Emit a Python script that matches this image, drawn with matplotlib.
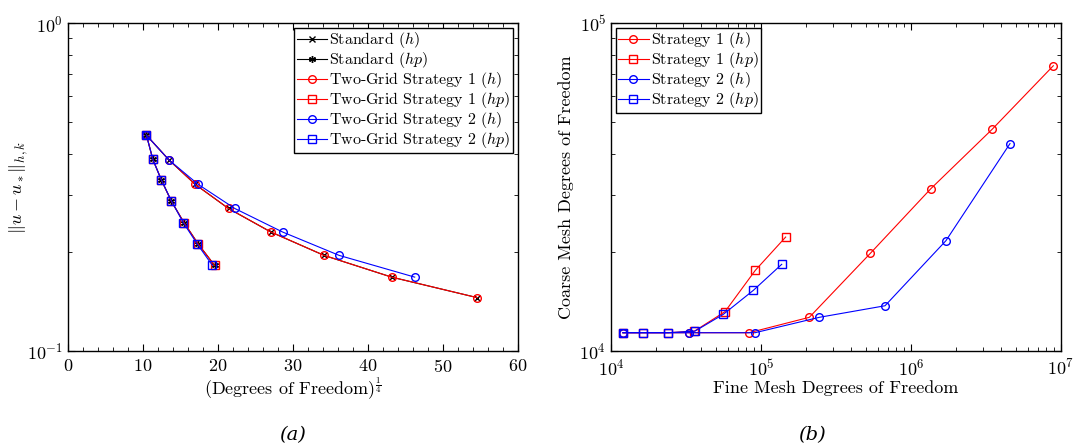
import numpy as np
import matplotlib.pyplot as plt
from matplotlib.ticker import MultipleLocator, LogLocator, NullFormatter

plt.rcParams['font.family'] = 'serif'
plt.rcParams['font.serif'] = ['cmr10', 'DejaVu Serif']
plt.rcParams['mathtext.fontset'] = 'cm'
plt.rcParams['axes.unicode_minus'] = False
plt.rcParams['axes.formatter.use_mathtext'] = True

# fine mesh degrees of freedom
fine_s1_h = [1.2e4, 3.31e4, 8.32e4, 2.10e5, 5.36e5, 1.36e6, 3.47e6, 8.89e6]
fine_s2_h = [1.2e4, 3.31e4, 9.12e4, 2.45e5, 6.71e5, 1.71e6, 4.57e6]
fine_s1_hp = [1.2e4, 1.64e4, 2.41e4, 3.60e4, 5.75e4, 9.16e4, 1.46e5]
fine_s2_hp = [1.2e4, 1.64e4, 2.41e4, 3.63e4, 5.61e4, 8.89e4, 1.374e5]

# coarse mesh degrees of freedom
coarse_s1_h = [1.137e4, 1.137e4, 1.137e4, 1.267e4, 1.986e4, 3.13e4, 4.74e4, 7.41e4]
coarse_s2_h = [1.137e4, 1.137e4, 1.137e4, 1.267e4, 1.374e4, 2.17e4, 4.29e4]
coarse_s1_hp = [1.137e4, 1.137e4, 1.137e4, 1.15e4, 1.318e4, 1.762e4, 2.226e4]
coarse_s2_hp = [1.137e4, 1.137e4, 1.137e4, 1.15e4, 1.294e4, 1.531e4, 1.838e4]

# error ||u - u_*||_{h,k}
err_h = [0.455, 0.382, 0.322, 0.272, 0.2306, 0.1957, 0.168, 0.1454]
err_hp = [0.455, 0.384, 0.332, 0.2866, 0.246, 0.2115, 0.1825]

q = lambda v: np.array(v) ** 0.25

fig = plt.figure(figsize=(10.79, 4.48), dpi=100)
ax1 = fig.add_axes([0.063, 0.2165, 0.417, 0.732])
ax2 = fig.add_axes([0.5663, 0.2165, 0.417, 0.732])

ms = 5.5
lw = 0.8
asterisk = (6, 2, 0)
leg_kw = dict(fontsize=11.5, fancybox=False, edgecolor='k', framealpha=1,
              borderpad=0.15, labelspacing=0.0, handlelength=1.9,
              handletextpad=0.15, borderaxespad=0.3)

ax1.plot(q(fine_s1_h), err_h, 'k-', marker='x', ms=4, lw=lw, label='Standard ($h$)')
ax1.plot(q(fine_s1_hp), err_hp, 'k-', marker=asterisk, ms=5, lw=lw, label='Standard ($hp$)')
ax1.plot(q(fine_s1_h), err_h, 'r-', marker='o', mfc='none', ms=ms, lw=lw,
         label='Two-Grid Strategy 1 ($h$)')
ax1.plot(q(fine_s1_hp), err_hp, 'r-', marker='s', mfc='none', ms=ms, lw=lw,
         label='Two-Grid Strategy 1 ($hp$)')
ax1.plot(q(fine_s2_h), err_h[:len(fine_s2_h)], 'b-', marker='o', mfc='none', ms=ms, lw=lw,
         label='Two-Grid Strategy 2 ($h$)')
ax1.plot(q(fine_s2_hp), err_hp, 'b-', marker='s', mfc='none', ms=ms, lw=lw,
         label='Two-Grid Strategy 2 ($hp$)')

ax1.set_yscale('log')
ax1.set_xlim(0, 60)
ax1.set_ylim(0.1, 1)
ax1.xaxis.set_major_locator(MultipleLocator(10))
ax1.xaxis.set_minor_locator(MultipleLocator(2))
ax1.set_xlabel(r'(Degrees of Freedom)$^{\frac{1}{4}}$', fontsize=13, labelpad=1)
ax1.set_ylabel(r'$\|u-u_*\|_{h,k}$', fontsize=13, labelpad=-2)
ax1.legend(loc='upper right', **leg_kw)

ax2.plot(fine_s1_h, coarse_s1_h, 'r-', marker='o', mfc='none', ms=ms, lw=lw,
         label='Strategy 1 ($h$)')
ax2.plot(fine_s1_hp, coarse_s1_hp, 'r-', marker='s', mfc='none', ms=ms, lw=lw,
         label='Strategy 1 ($hp$)')
ax2.plot(fine_s2_h, coarse_s2_h, 'b-', marker='o', mfc='none', ms=ms, lw=lw,
         label='Strategy 2 ($h$)')
ax2.plot(fine_s2_hp, coarse_s2_hp, 'b-', marker='s', mfc='none', ms=ms, lw=lw,
         label='Strategy 2 ($hp$)')
ax2.set_xscale('log')
ax2.set_yscale('log')
ax2.set_xlim(1e4, 1e7)
ax2.set_ylim(1e4, 1e5)
ax2.set_xlabel('Fine Mesh Degrees of Freedom', fontsize=13, labelpad=1)
ax2.set_ylabel('Coarse Mesh Degrees of Freedom', fontsize=13)
ax2.legend(loc='upper left', **leg_kw)

for ax in (ax1, ax2):
    ax.tick_params(which='both', direction='in', top=True, right=True, labelsize=13)
    ax.tick_params(which='major', length=5)
    ax.tick_params(which='minor', length=3)
    ax.tick_params(axis='x', which='major', pad=5)
    for s in ax.spines.values():
        s.set_linewidth(1.0)
    ax.yaxis.set_minor_locator(LogLocator(base=10, subs=np.arange(2, 10)))
    ax.yaxis.set_minor_formatter(NullFormatter())
ax2.xaxis.set_minor_locator(LogLocator(base=10, subs=np.arange(2, 10)))
ax2.xaxis.set_minor_formatter(NullFormatter())

fig.text(0.2715, 0.029, '(a)', ha='center', va='center', fontsize=14,
         style='italic', family='DejaVu Serif')
fig.text(0.7525, 0.029, '(b)', ha='center', va='center', fontsize=14,
         style='italic', family='DejaVu Serif')

fig.savefig('out.png', dpi=100)
